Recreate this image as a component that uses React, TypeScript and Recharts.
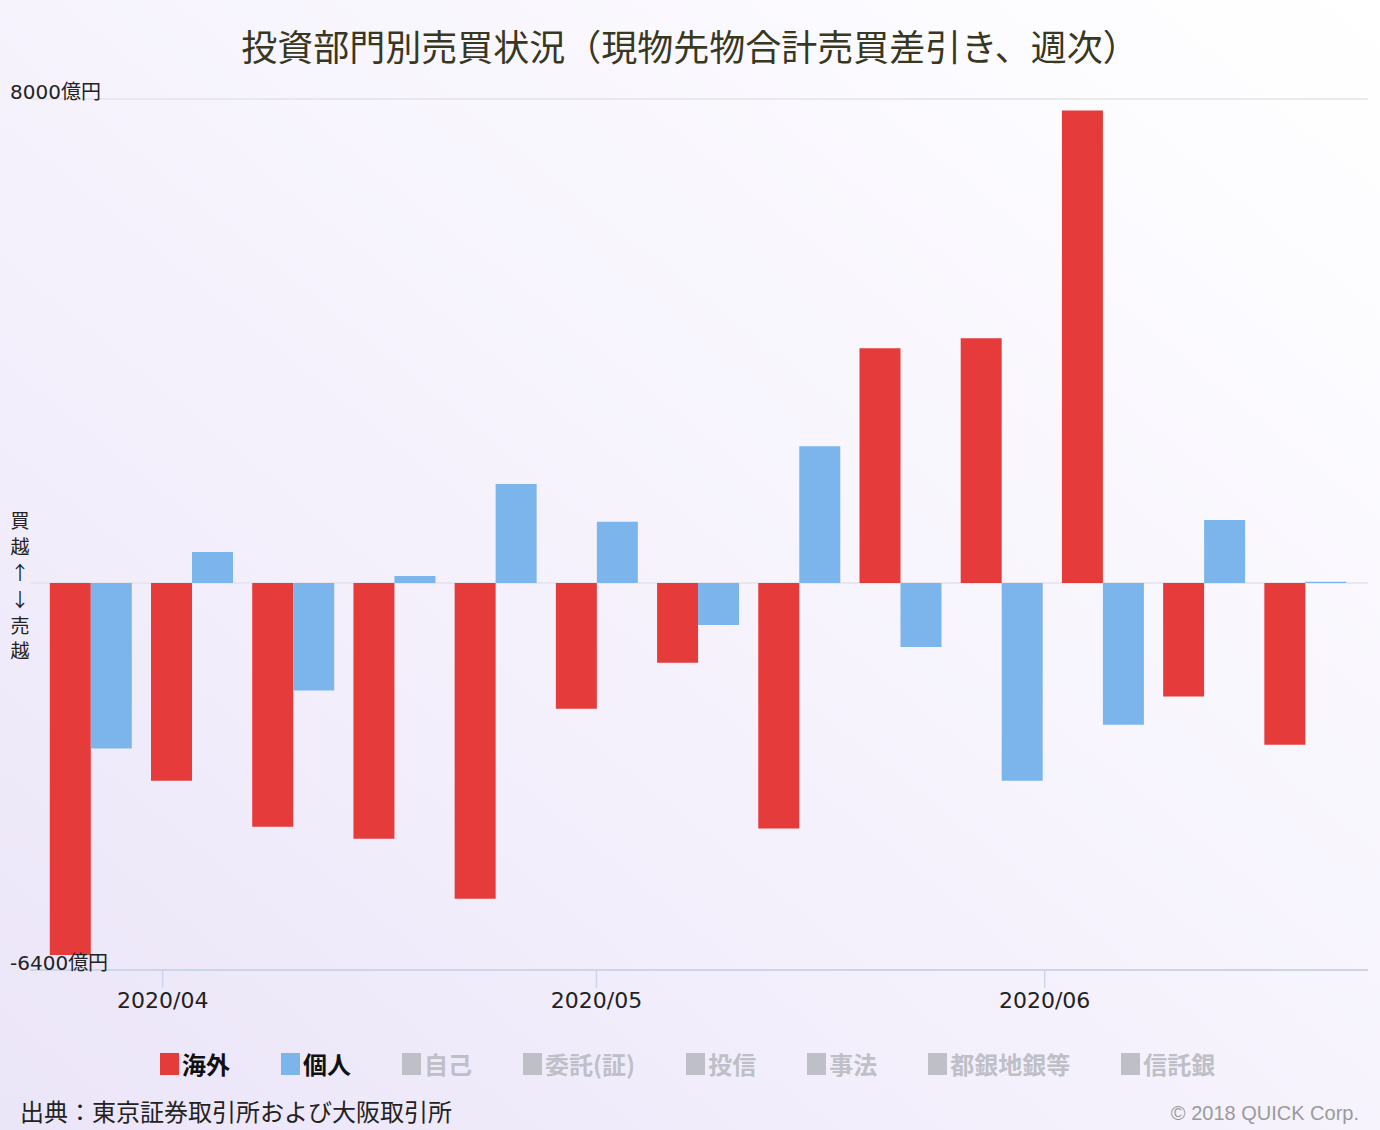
import React from "react";
import { BarChart, Bar, XAxis, YAxis, CartesianGrid } from "recharts";

// weekly net buying/selling (億円), cash + futures combined
const weeks = [
  "2020-03-27", "2020-04-03", "2020-04-10", "2020-04-17", "2020-04-24", "2020-05-01", "2020-05-08",
  "2020-05-15", "2020-05-22", "2020-05-29", "2020-06-05", "2020-06-12", "2020-06-19",
];
const overseas = [-6150, -3270, -4030, -4230, -5220, -2080, -1320, -4060, 3880, 4045, 7810, -1880, -2675];
const individual = [-2740, 510, -1780, 115, 1635, 1010, -695, 2260, -1060, -3270, -2345, 1040, 20];

const monthTicks = ["2020-04-01", "2020-05-01", "2020-06-01"];
const xRange = ["2020-03-22T19:45:00Z", "2020-06-23T08:40:00Z"];
const yTicks = [-6400, 0, 8000];
const sideLabel = ["買", "越", "↑", "↓", "売", "越"];

const legendNames = ["海外", "個人", "自己", "委託(証)", "投信", "事法", "都銀地銀等", "信託銀"];
const legendColors = ["#e63b3b", "#7cb5ec", "#bfbfc8", "#bfbfc8", "#bfbfc8", "#bfbfc8", "#bfbfc8", "#bfbfc8"];
const legendActive = [true, true, false, false, false, false, false, false];

const toTime = (s: string) => Date.parse(s.length === 10 ? s + "T00:00:00Z" : s);

const data = weeks.map((w, i) => ({
  t: toTime(w),
  overseas: overseas[i],
  individual: individual[i],
}));

const RED = "#e63b3b";
const BLUE = "#7cb5ec";
const LATIN = '"DejaVu Sans", "Noto Sans CJK JP", sans-serif';
const CJK = '"Noto Sans CJK JP", "DejaVu Sans", sans-serif';

function YTick(props: any) {
  const { y, payload } = props;
  if (payload.value === 0) {
    const offsets = [-63, -37, -11, 16, 42, 67];
    return (
      <g>
        {sideLabel.map((c, i) => (
          <text
            key={i}
            x={20}
            y={y + offsets[i]}
            textAnchor="middle"
            dominantBaseline="central"
            fontSize={19}
            fontFamily={CJK}
            fill="#222"
          >
            {c}
          </text>
        ))}
      </g>
    );
  }
  return (
    <text x={10} y={y - 7} dominantBaseline="central" fontSize={20} fontFamily={LATIN} fill="#222">
      {payload.value}億円
    </text>
  );
}

function fmtMonth(v: number) {
  const d = new Date(v);
  return `${d.getUTCFullYear()}/${String(d.getUTCMonth() + 1).padStart(2, "0")}`;
}

export default function App() {
  return (
    <div
      style={{
        position: "relative",
        width: 1380,
        height: 1130,
        overflow: "hidden",
        background: "linear-gradient(to top right, #ebe5f8 0%, #f6f3fd 50%, #ffffff 100%)",
      }}
    >
      <style>{`body{margin:0}`}</style>
      <div
        style={{
          position: "absolute",
          top: 27,
          left: 10,
          width: 1360,
          textAlign: "center",
          fontFamily: CJK,
          fontSize: 36,
          lineHeight: "36px",
          color: "#38371f",
        }}
      >
        投資部門別売買状況（現物先物合計売買差引き、週次）
      </div>

      <div style={{ position: "absolute", top: 0, left: 0 }}>
        <BarChart
          width={1380}
          height={1030}
          data={data}
          margin={{ top: 99, right: 12, bottom: 0, left: 0 }}
          barGap={0}
        >
          <CartesianGrid horizontal vertical={false} stroke="#e3e3e6" strokeWidth={1.5} />
          <XAxis
            dataKey="t"
            type="number"
            domain={xRange.map(toTime)}
            ticks={monthTicks.map(toTime)}
            interval={0}
            allowDataOverflow
            tickFormatter={fmtMonth}
            height={60}
            tickSize={18}
            tickMargin={4}
            axisLine={{ stroke: "#ccd6eb", strokeWidth: 2 }}
            tickLine={{ stroke: "#ccd6eb", strokeWidth: 1.5 }}
            tick={{ fill: "#222", fontSize: 22, fontFamily: LATIN }}
          />
          <YAxis
            type="number"
            domain={[-6400, 8000]}
            ticks={yTicks}
            interval={0}
            width={30}
            axisLine={false}
            tickLine={false}
            tick={(p: any) => <YTick {...p} />}
          />
          <Bar dataKey="overseas" fill={RED} barSize={41} isAnimationActive={false} />
          <Bar dataKey="individual" fill={BLUE} barSize={41} isAnimationActive={false} />
        </BarChart>
      </div>

      <div
        style={{
          position: "absolute",
          top: 1052,
          left: 160,
          display: "flex",
          gap: 51,
          fontFamily: CJK,
          fontWeight: 700,
          fontSize: 24,
          lineHeight: "24px",
        }}
      >
        {legendNames.map((n, i) => (
          <div key={n} style={{ display: "flex", alignItems: "center", color: legendActive[i] ? "#111" : "#bfbfc8" }}>
            <span
              style={{
                display: "inline-block",
                width: 19,
                height: 22,
                marginRight: 3,
                background: legendColors[i],
              }}
            />
            {n}
          </div>
        ))}
      </div>

      <div
        style={{
          position: "absolute",
          top: 1099,
          left: 20,
          fontFamily: CJK,
          fontSize: 24,
          lineHeight: "24px",
          color: "#222",
        }}
      >
        出典：東京証券取引所および大阪取引所
      </div>
      <div
        style={{
          position: "absolute",
          top: 1103,
          right: 21,
          fontFamily: '"Liberation Sans", sans-serif',
          fontSize: 20,
          lineHeight: "20px",
          color: "#9a9a9a",
        }}
      >
        © 2018 QUICK Corp.
      </div>
    </div>
  );
}
